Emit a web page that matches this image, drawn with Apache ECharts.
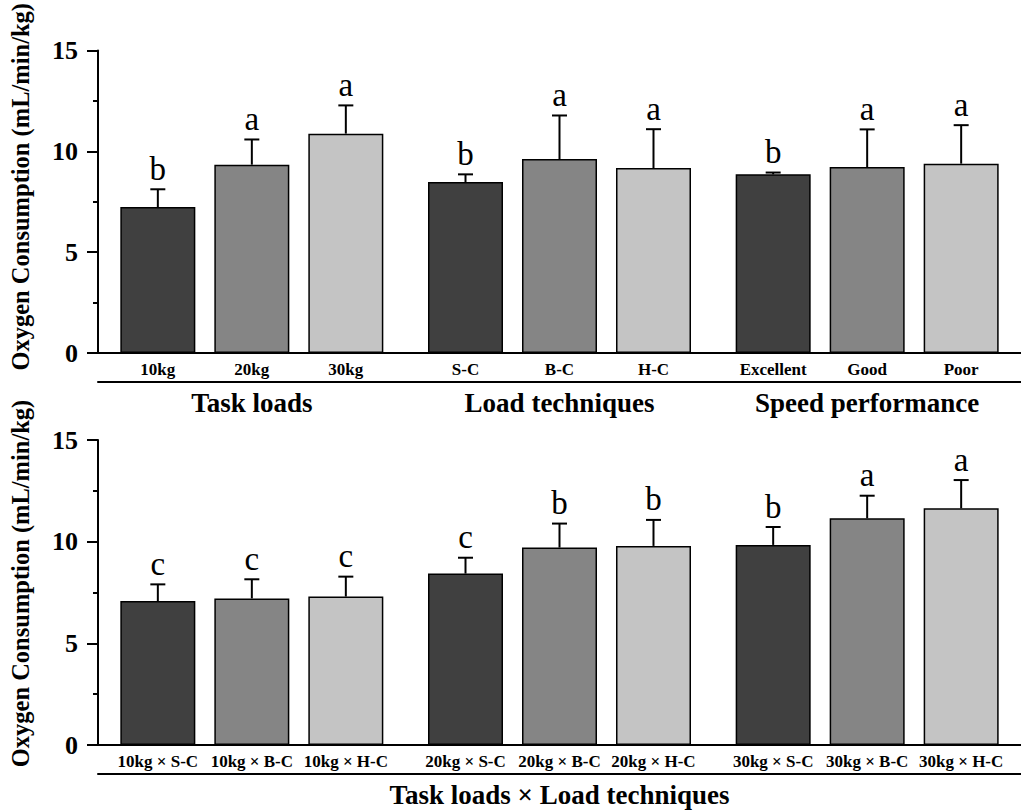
<!DOCTYPE html>
<html><head><meta charset="utf-8">
<script src="https://cdn.jsdelivr.net/npm/echarts@6/dist/echarts.min.js"></script>
<style>html,body{margin:0;padding:0;background:#fff}#c{width:1021px;height:810px}</style>
</head><body><div id="c"></div>
<script>
// ---- data ----
const topGroups = ['Task loads', 'Load techniques', 'Speed performance'];
const topCategories = ['10kg', '20kg', '30kg', 'S-C', 'B-C', 'H-C', 'Excellent', 'Good', 'Poor'];
const topMeans = [7.24, 9.34, 10.88, 8.48, 9.62, 9.17, 8.86, 9.22, 9.39];
const topErrors = [0.88, 1.25, 1.40, 0.38, 2.16, 1.93, 0.09, 1.87, 1.91];
const topLetters = ['b', 'a', 'a', 'b', 'a', 'a', 'b', 'a', 'a'];

const bottomGroups = ['10kg', '20kg', '30kg'];
const bottomCategories = ['10kg × S-C', '10kg × B-C', '10kg × H-C', '20kg × S-C', '20kg × B-C', '20kg × H-C', '30kg × S-C', '30kg × B-C', '30kg × H-C'];
const bottomMeans = [7.08, 7.21, 7.30, 8.43, 9.71, 9.79, 9.84, 11.15, 11.64];
const bottomErrors = [0.82, 0.94, 0.98, 0.78, 1.18, 1.28, 0.88, 1.11, 1.39];
const bottomLetters = ['c', 'c', 'c', 'c', 'b', 'b', 'b', 'a', 'a'];
const bottomTitle = 'Task loads × Load techniques';
const yTitle = 'Oxygen Consumption (mL/min/kg)';
const yTicks = [0, 5, 10, 15];

// ---- styling ----
const FONT = '"Liberation Serif", "Times New Roman", serif';
const colors = ['#404040', '#858585', '#c4c4c4'];
const BAR_W = 75;
const BAR_GAP = 0.2533;

const chart = echarts.init(document.getElementById('c'), null, { renderer: 'svg' });

function barSeries(panel, means, cats) {
  return [0, 1, 2].map(i => ({
    type: 'bar',
    xAxisIndex: panel * 2,
    yAxisIndex: panel,
    barWidth: BAR_W,
    barGap: (BAR_GAP * 100) + '%',
    data: [0, 1, 2].map(g => means[g * 3 + i]),
    itemStyle: { color: colors[i], borderColor: '#000', borderWidth: 1.5 },
    label: {
      show: true, position: 'bottom', distance: 8,
      formatter: p => cats[p.dataIndex * 3 + i],
      fontFamily: FONT, fontWeight: 'bold', fontSize: 17, color: '#000'
    },
    silent: true,
    animation: false,
    z: 2
  }));
}

function errSeries(panel, means, errs, letters) {
  const data = means.map((m, k) => [Math.floor(k / 3), m + errs[k], m, k % 3, k]);
  return {
    type: 'custom',
    xAxisIndex: panel * 2,
    yAxisIndex: panel,
    data: data,
    encode: { x: 0, y: 1 },
    silent: true,
    animation: false,
    z: 3,
    renderItem: function (params, api) {
      const g = api.value(0), top = api.value(1), mean = api.value(2), i = api.value(3), k = api.value(4);
      let off = (i - 1) * BAR_W * (1 + BAR_GAP);
      if (api.barLayout) {
        try {
          const lay = api.barLayout({ count: 3, barWidth: BAR_W, barGap: (BAR_GAP * 100) + '%' });
          if (lay && lay[i] && isFinite(lay[i].offsetCenter)) off = lay[i].offsetCenter;
        } catch (e) {}
      }
      const pt = api.coord([g, top]);
      const pb = api.coord([g, mean]);
      const x = pt[0] + off;
      return {
        type: 'group',
        children: [
          { type: 'line', shape: { x1: x, y1: pb[1], x2: x, y2: pt[1] }, style: { stroke: '#000', lineWidth: 2 } },
          { type: 'line', shape: { x1: x - 7.5, y1: pt[1], x2: x + 7.5, y2: pt[1] }, style: { stroke: '#000', lineWidth: 2 } },
          { type: 'text', style: { text: letters[k], x: x, y: pt[1] - 4, align: 'center', verticalAlign: 'bottom', fontFamily: FONT, fontSize: 33, fill: '#000' } }
        ]
      };
    }
  };
}

function yAxis(panel, pad) {
  return {
    gridIndex: panel, type: 'value', min: 0, max: 15, interval: 5,
    axisLine: { show: true, lineStyle: { color: '#000', width: 2 } },
    axisTick: { show: true, inside: false, length: 11, lineStyle: { color: '#000', width: 2 } },
    minorTick: { show: true, splitNumber: 2, length: 5, lineStyle: { color: '#000', width: 2 } },
    splitLine: { show: false },
    axisLabel: { margin: 20, fontFamily: FONT, fontWeight: 'bold', fontSize: 26, color: '#000',
      formatter: v => (yTicks.indexOf(v) >= 0 ? String(v) : '') },
    name: yTitle, nameLocation: 'middle', nameGap: 65, nameRotate: 90,
    nameTextStyle: { fontFamily: FONT, fontWeight: 'bold', fontSize: 24.5, color: '#000', padding: [0, 0, 0, pad] }
  };
}

const option = {
  backgroundColor: '#fff',
  animation: false,
  grid: [
    { left: 98, top: 50, width: 936, height: 303, containLabel: false },
    { left: 98, top: 440, width: 936, height: 305, containLabel: false }
  ],
  xAxis: [
    { gridIndex: 0, type: 'category', data: topGroups, axisLine: { lineStyle: { color: '#000', width: 2 } }, axisTick: { show: false }, axisLabel: { show: false } },
    { gridIndex: 0, type: 'category', data: topGroups, position: 'bottom', offset: 29,
      axisLine: { lineStyle: { color: '#000', width: 2 } }, axisTick: { show: false },
      axisLabel: { show: true, margin: 7, fontFamily: FONT, fontWeight: 'bold', fontSize: 27, color: '#000' } },
    { gridIndex: 1, type: 'category', data: bottomGroups, axisLine: { lineStyle: { color: '#000', width: 2 } }, axisTick: { show: false }, axisLabel: { show: false } },
    { gridIndex: 1, type: 'category', data: bottomGroups, position: 'bottom', offset: 29,
      axisLine: { lineStyle: { color: '#000', width: 2 } }, axisTick: { show: false }, axisLabel: { show: false },
      name: bottomTitle, nameLocation: 'middle', nameGap: 7,
      nameTextStyle: { fontFamily: FONT, fontWeight: 'bold', fontSize: 27, color: '#000', verticalAlign: 'top' } }
  ],
  yAxis: [yAxis(0, 30), yAxis(1, 18)],
  series: [].concat(
    barSeries(0, topMeans, topCategories),
    [errSeries(0, topMeans, topErrors, topLetters)],
    barSeries(1, bottomMeans, bottomCategories),
    [errSeries(1, bottomMeans, bottomErrors, bottomLetters)]
  )
};
chart.setOption(option);
</script>
</body></html>
